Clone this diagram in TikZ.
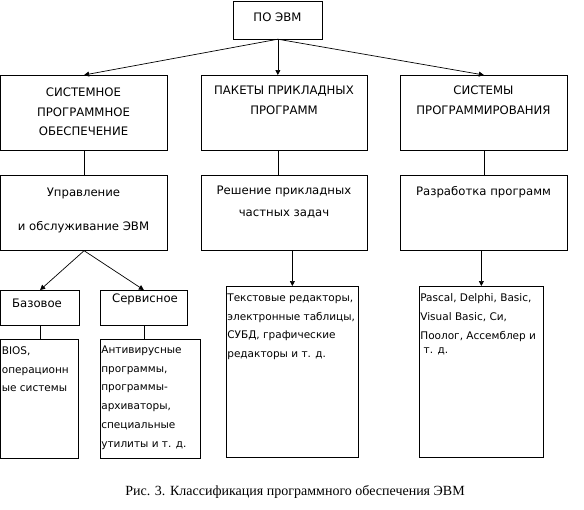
\documentclass[tikz,border=0pt]{standalone}
\usepackage{fontspec}
\setmainfont{DejaVu Sans}
\newfontfamily\capfont{Liberation Serif}
\usetikzlibrary{arrows.meta}
\tikzset{
  box/.style={draw, anchor=north west, inner sep=0pt},
  head/.style={anchor=north, align=center, inner sep=0pt, font=\fontsize{11.7}{19.5}\selectfont},
  leaf/.style={anchor=north west, align=left, inner sep=0pt, font=\fontsize{10.5}{18.8}\selectfont},
  tip/.style={-{Triangle[length=5pt,width=5pt]}}
}
\begin{document}
\begin{tikzpicture}[x=1pt, y=-1pt, line width=0.7pt]
  \useasboundingbox (0,0) rectangle (584,509);
  % верхний блок
  \node[box, minimum width=89pt, minimum height=38pt] (po) at (233,0.5) {};
  \node[head] (poT) at (277.5,12.7) {ПО ЭВМ};
  % первый уровень
  \node[box, minimum width=166.5pt, minimum height=75pt] (sys) at (0.5,75) {};
  \node[head] (sysT) at (83.5,87.7) {СИСТЕМНОЕ\\ПРОГРАММНОЕ\\ОБЕСПЕЧЕНИЕ};
  \node[box, minimum width=166pt, minimum height=75pt] (pak) at (201,75) {};
  \node[head] (pakT) at (284,85.7) {ПАКЕТЫ ПРИКЛАДНЫХ\\ПРОГРАММ};
  \node[box, minimum width=167pt, minimum height=75pt] (prog) at (400,75) {};
  \node[head] (progT) at (483.5,85.7) {СИСТЕМЫ\\ПРОГРАММИРОВАНИЯ};
  % второй уровень
  \node[box, minimum width=166.5pt, minimum height=75pt] (upr) at (0.5,175) {};
  \node[head] (uprT) at (83.5,187.7) {Управление\\[14.5pt]и обслуживание ЭВМ};
  \node[box, minimum width=166pt, minimum height=75pt] (resh) at (201,175) {};
  \node[head] (reshT) at (284,185.7) {Решение прикладных\\[2.5pt]частных задач};
  \node[box, minimum width=167pt, minimum height=75pt] (razr) at (400,175) {};
  \node[head] (razrT) at (483.5,185.7) {Разработка программ};
  % базовое и сервисное
  \node[box, minimum width=78.5pt, minimum height=35pt] (baz) at (0.5,290) {};
  \node[head] (bazT) at (37,298.7) {Базовое};
  \node[box, minimum width=87pt, minimum height=35pt] (serv) at (100,290) {};
  \node[head] (servT) at (145,293.7) {Сервисное};
  % нижние блоки со списками
  \node[box, minimum width=77.5pt, minimum height=119pt] (bios) at (0.5,339) {};
  \node[leaf] (biosT) at (1.5,346.2) {BIOS,\\операционн\\ые системы};
  \node[box, minimum width=100pt, minimum height=119pt] (anti) at (100,339) {};
  \node[leaf] (antiT) at (101,345.2) {Антивирусные\\программы,\\программы-\\архиваторы,\\специальные\\утилиты и т. д.};
  \node[box, minimum width=132pt, minimum height=171pt] (tekst) at (226,286) {};
  \node[leaf] (tekstT) at (227,293.2) {Текстовые редакторы,\\электронные таблицы,\\СУБД, графические\\редакторы и т. д.};
  \node[box, minimum width=124pt, minimum height=171pt] (yaz) at (419,286) {};
  \node[leaf] (yazT) at (420,293.2) {Pascal, Delphi, Basic,\\Visual Basic, Си,\\Поолог, Ассемблер и\\[-4pt]\ т. д.};
  % подпись
  \node[font=\capfont\fontsize{14}{16}\selectfont] (cap) at (295,492) {Рис. 3. Классификация программного обеспечения ЭВМ};
  % стрелки и линии
  \draw[tip] (po.south) -- (sys.north);
  \draw[tip] (po.south) -- (po.south |- pak.north);
  \draw[tip] (po.south) -- (prog.north);
  \draw (sys.south) -- (upr.north);
  \draw (po.south |- pak.south) -- (po.south |- resh.north);
  \draw (prog.south) -- (razr.north);
  \draw[tip] (upr.south) -- (baz.north);
  \draw[tip] (upr.south) -- (serv.north);
  \draw (baz.south) -- (baz.south |- bios.north);
  \draw (serv.south) -- (serv.south |- anti.north);
  \draw[tip] (tekst.north |- resh.south) -- (tekst.north);
  \draw[tip] (yaz.north |- razr.south) -- (yaz.north);
\end{tikzpicture}
\end{document}
